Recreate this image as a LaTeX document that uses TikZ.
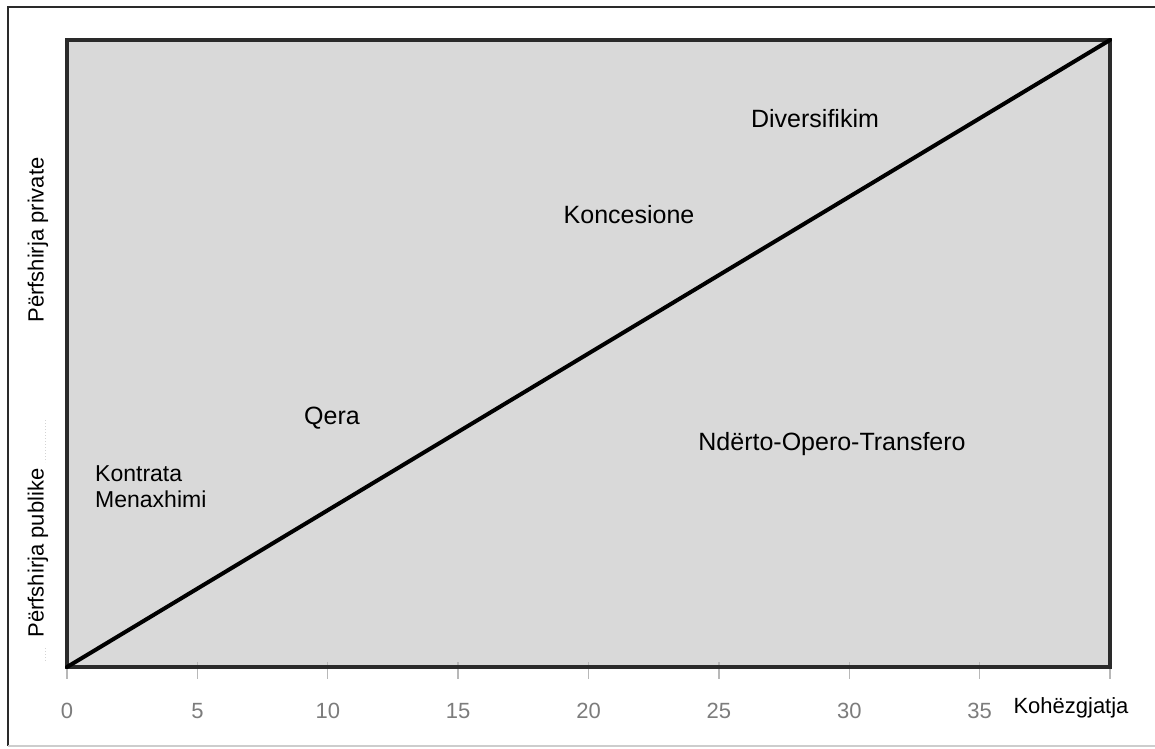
\documentclass[tikz,border=0pt]{standalone}
\usepackage{fontspec}
\setmainfont{Liberation Sans}
\definecolor{plotfill}{HTML}{D9D9D9}
\definecolor{frameline}{HTML}{2A2A2A}
\definecolor{ticklabel}{HTML}{7C7C7C}
\definecolor{tickline}{HTML}{B8B8B8}
\begin{document}
\begin{tikzpicture}[x=1pt,y=-1pt,
  lbl/.style={font=\fontsize{25}{27}\selectfont, text=black, inner sep=0pt},
  axlbl/.style={font=\fontsize{22}{25}\selectfont, text=black, inner sep=0pt},
  tlbl/.style={font=\fontsize{22}{25}\selectfont, text=ticklabel, inner sep=0pt},
  tickmark/.style={draw=tickline, line width=1.4pt},
  diag/.style={draw=black, line width=4pt, line cap=round}]
\useasboundingbox (0,0) rectangle (1155,748);
\fill[white] (0,0) rectangle (1155,748);
% outer frame
\draw[draw=frameline, line width=2pt] (8,746) -- (8,7) -- (1155,7);
\draw[draw=tickline!70, line width=1.5pt] (8,746) -- (1155,746);
% plot area
\coordinate (ll) at (67,667);
\coordinate (ur) at (1110,40);
\fill[plotfill] (ll) rectangle (ur);
% ticks
\foreach \k in {0,...,8}{
  \draw[tickmark] (67+130.375*\k,662) -- (67+130.375*\k,679);
}
\draw[draw=frameline, line width=4pt] (ll) rectangle (ur);
\draw[diag] (ll) -- (ur);
% tick labels
\foreach \k in {0,...,7}{
  \pgfmathtruncatemacro{\v}{5*\k}
  \node[tlbl] (t\k) at (67+130.375*\k,711) {\v};
}
\node[axlbl] (xlab) at (1071,708) {Kohëzgjatja};
% left axis labels
\node[axlbl, rotate=90] (ypriv) at (38,240) {Përfshirja private};
\node[axlbl, rotate=90] (ypub) at (38,553) {Përfshirja publike};
\draw[draw=tickline!60, line width=1pt, dotted] (45,420) -- (45,462);
\draw[draw=tickline!60, line width=1pt, dotted] (45,648) -- (45,662);
% region labels
\node[lbl] (div) at (815,119) {Diversifikim};
\node[lbl] (kon) at (629,215) {Koncesione};
\node[lbl] (qer) at (332,418) {Qera};
\node[lbl] (ndt) at (832,444) {Ndërto-Opero-Transfero};
\node[lbl, anchor=west, align=left, font=\fontsize{23}{26}\selectfont] (kmx) at (95,487) {Kontrata\\Menaxhimi};
\end{tikzpicture}
\end{document}
